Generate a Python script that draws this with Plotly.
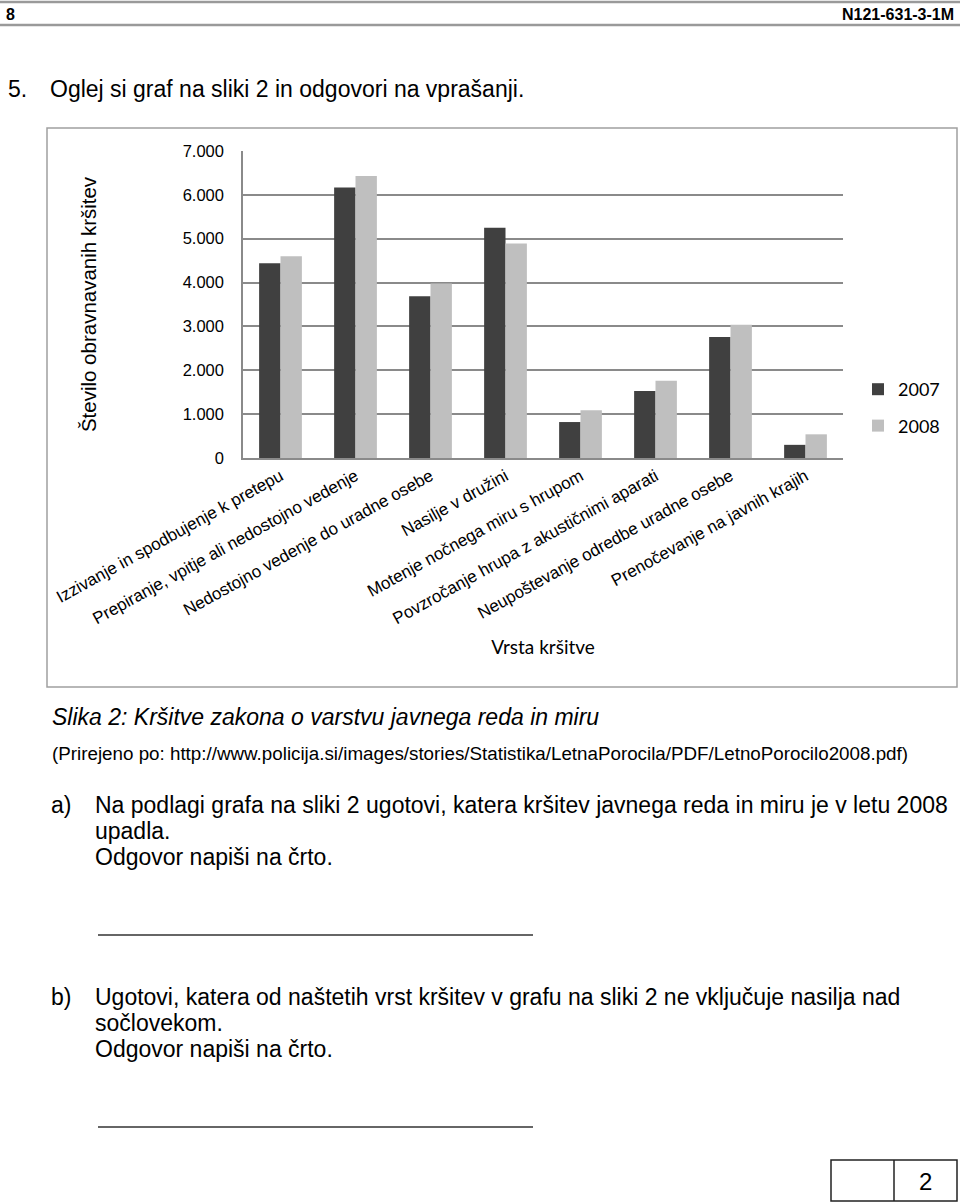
import plotly.graph_objects as go

# ---------------- data ----------------
categories = [
    "Izzivanje in spodbujenje k pretepu",
    "Prepiranje, vpitje ali nedostojno vedenje",
    "Nedostojno vedenje do uradne osebe",
    "Nasilje v družini",
    "Motenje nočnega miru s hrupom",
    "Povzročanje hrupa z akustičnimi aparati",
    "Neupoštevanje odredbe uradne osebe",
    "Prenočevanje na javnih krajih",
]
values_2007 = [4440, 6170, 3690, 5250, 820, 1530, 2760, 300]
values_2008 = [4600, 6430, 3980, 4890, 1090, 1760, 3040, 540]
series_names = ["2007", "2008"]
y_tick_values = [0, 1000, 2000, 3000, 4000, 5000, 6000, 7000]
y_tick_labels = ["0", "1.000", "2.000", "3.000", "4.000", "5.000", "6.000", "7.000"]

# ---------------- page geometry (pixels) ----------------
W, H = 960, 1202
PL, PR, PT, PB = 243, 843, 151, 458


def px(x):
    return (x - PL) / (PR - PL)


def py(y):
    return (PB - y) / (PB - PT)


ARIAL = "Liberation Sans, Arial, sans-serif"
CALIBRI = "Lato, Carlito, Calibri, sans-serif"
GRID = "#8a8a8a"

fig = go.Figure()
fig.add_trace(go.Bar(x=categories, y=values_2007, name=series_names[0],
                     marker=dict(color="#404040", line=dict(width=0)),
                     legendgroup="a"))
fig.add_trace(go.Bar(x=categories, y=values_2008, name=series_names[1],
                     marker=dict(color="#bfbfbf", line=dict(width=0)),
                     legendgroup="b"))

fig.update_layout(
    width=W, height=H,
    margin=dict(l=PL, r=W - PR, t=PT, b=H - PB, pad=0),
    paper_bgcolor="white", plot_bgcolor="white",
    barmode="group", bargap=0.43, bargroupgap=0,
    font=dict(family=ARIAL, color="black"),
    showlegend=True,
    legend=dict(x=px(858), y=py(371), xanchor="left", yanchor="top",
                font=dict(family=CALIBRI, size=18, color="black"),
                bgcolor="rgba(0,0,0,0)", tracegroupgap=10,
                traceorder="grouped"),
)

fig.update_xaxes(
    showline=True, linecolor=GRID, linewidth=1.5,
    showgrid=False, ticks="", tickangle=-29,
    tickfont=dict(family=ARIAL, size=17, color="black"),
    title=dict(text="Vrsta kršitve", standoff=13,
               font=dict(family=CALIBRI, size=19, color="black")),
    fixedrange=True,
)
fig.update_yaxes(
    range=[0, 7000], tickvals=y_tick_values, ticktext=y_tick_labels,
    showgrid=True, gridcolor=GRID, gridwidth=1.5,
    showline=True, linecolor=GRID, linewidth=1.5,
    zeroline=False, ticks="", ticklabelstandoff=14,
    tickfont=dict(family=ARIAL, size=16.5, color="black"),
    title=dict(text="Število obravnavanih kršitev", standoff=80,
               font=dict(family=ARIAL, size=20.5, color="black")),
    fixedrange=True,
)

shapes = []


def hline(x0, x1, y, color, width):
    shapes.append(dict(type="line", xref="paper", yref="paper",
                       x0=px(x0), x1=px(x1), y0=py(y), y1=py(y),
                       line=dict(color=color, width=width)))


def vline(x, y0, y1, color, width):
    shapes.append(dict(type="line", xref="paper", yref="paper",
                       x0=px(x), x1=px(x), y0=py(y0), y1=py(y1),
                       line=dict(color=color, width=width)))


# header rules
hline(0, 960, 2, "#9a9a9a", 2.5)
hline(0, 960, 25, "#9a9a9a", 2.5)
# chart frame
shapes.append(dict(type="rect", xref="paper", yref="paper",
                   x0=px(47), x1=px(957), y0=py(128), y1=py(687),
                   line=dict(color="#a0a0a0", width=1.5), layer="below"))
# answer lines
hline(98, 533, 935, "#333333", 1.5)
hline(98, 533, 1127, "#333333", 1.5)
# score box
shapes.append(dict(type="rect", xref="paper", yref="paper",
                   x0=px(831), x1=px(957), y0=py(1160), y1=py(1201),
                   line=dict(color="#222222", width=1.5)))
vline(894, 1160, 1201, "#222222", 1.5)

annotations = []


def text(x, y, s, size, anchor="left", family=ARIAL):
    annotations.append(dict(xref="paper", yref="paper", x=px(x), y=py(y),
                            text=s, showarrow=False, xanchor=anchor,
                            yanchor="middle",
                            font=dict(family=family, size=size, color="black")))


text(4, 14, "<b>8</b>", 16)
text(956, 14, "<b>N121-631-3-1M</b>", 16, anchor="right")
text(6, 89, "5.", 23)
text(48, 89, "Oglej si graf na sliki 2 in odgovori na vprašanji.", 23)
text(50, 717, "<i>Slika 2: Kršitve zakona o varstvu javnega reda in miru</i>", 23)
text(50, 753, "(Prirejeno po: http://www.policija.si/images/stories/Statistika/"
     "LetnaPorocila/PDF/LetnoPorocilo2008.pdf)", 18.8)
text(49, 805, "a)", 23)
text(93, 805, "Na podlagi grafa na sliki 2 ugotovi, katera kršitev javnega reda "
     "in miru je v letu 2008", 23)
text(93, 831, "upadla.", 23)
text(93, 857, "Odgovor napiši na črto.", 23)
text(49, 997, "b)", 23)
text(93, 997, "Ugotovi, katera od naštetih vrst kršitev v grafu na sliki 2 ne "
     "vključuje nasilja nad", 23)
text(93, 1023, "sočlovekom.", 23)
text(93, 1049, "Odgovor napiši na črto.", 23)
text(925, 1181, "2", 24, anchor="center")

fig.update_layout(shapes=shapes, annotations=annotations)

fig.write_html("out.html", config={"displayModeBar": False})
